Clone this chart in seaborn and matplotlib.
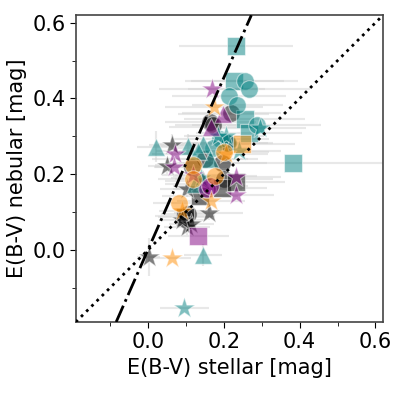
import numpy as np
import pandas as pd
import seaborn as sns
from matplotlib import pyplot as plt
from matplotlib.ticker import MultipleLocator

# E(B-V) stellar, E(B-V) nebular, x error, y error
teal_sq_x = [0.232, 0.228, 0.255, 0.266, 0.382]
teal_sq_y = [0.538, 0.446, 0.347, 0.310, 0.229]
teal_sq_xe = [0.15, 0.13, 0.16, 0.14, 0.30]

teal_ci_x = [0.255, 0.267, 0.213, 0.236, 0.287, 0.210, 0.190, 0.172]
teal_ci_y = [0.446, 0.424, 0.406, 0.382, 0.329, 0.283, 0.292, 0.270]
teal_ci_xe = [0.14, 0.16, 0.15, 0.12, 0.17, 0.12, 0.13, 0.10]

teal_tr_x = [0.022, 0.107, 0.146, 0.164, 0.124, 0.145, 0.132]
teal_tr_y = [0.273, 0.275, 0.279, 0.239, 0.174, -0.013, 0.262]
teal_tr_xe = [0.05, 0.09, 0.12, 0.10, 0.08, 0.05, 0.11]
teal_tr_ye = [0.04, 0.03, 0.02, 0.02, 0.02, 0.03, 0.02]

teal_st_x = [0.296, 0.206, 0.185, 0.096, 0.140, 0.240]
teal_st_y = [0.323, 0.301, 0.300, -0.153, 0.190, 0.262]
teal_st_xe = [0.12, 0.10, 0.09, 0.065, 0.08, 0.11]

gray_ci_x = [0.220, 0.164, 0.172, 0.151, 0.117, 0.195, 0.201, 0.208, 0.098, 0.105]
gray_ci_y = [0.362, 0.338, 0.330, 0.239, 0.220, 0.231, 0.187, 0.283, 0.090, 0.095]
gray_ci_xe = [0.13, 0.12, 0.10, 0.14, 0.10, 0.12, 0.13, 0.11, 0.08, 0.07]

gray_st_x = [0.063, 0.050, 0.002, 0.160, 0.103, 0.103, 0.115, 0.146, 0.090]
gray_st_y = [0.277, 0.222, -0.018, 0.099, 0.161, 0.060, 0.070, 0.182, 0.080]
gray_st_xe = [0.06, 0.05, 0.03, 0.09, 0.07, 0.06, 0.06, 0.10, 0.06]
gray_st_ye = [0.03, 0.02, 0.05, 0.02, 0.02, 0.02, 0.02, 0.02, 0.02]

gray_sq_x = [0.138, 0.195, 0.232, 0.098]
gray_sq_y = [0.143, 0.165, 0.180, 0.086]
gray_sq_xe = [0.10, 0.12, 0.13, 0.07]

purp_tr_x = [0.199, 0.166]
purp_tr_y = [0.358, 0.325]
purp_tr_xe = [0.12, 0.11]

purp_st_x = [0.169, 0.072, 0.068, 0.232, 0.232, 0.118]
purp_st_y = [0.424, 0.254, 0.218, 0.145, 0.192, 0.197]
purp_st_xe = [0.14, 0.06, 0.05, 0.10, 0.12, 0.08]

purp_ci_x = [0.157, 0.165]
purp_ci_y = [0.161, 0.170]
purp_ci_xe = [0.09, 0.10]

purp_sq_x = [0.133]
purp_sq_y = [0.036]
purp_sq_xe = [0.08]

oran_st_x = [0.174, 0.063, 0.166, 0.206, 0.089]
oran_st_y = [0.378, -0.022, 0.130, 0.253, 0.103]
oran_st_xe = [0.13, 0.05, 0.09, 0.11, 0.06]

oran_ci_x = [0.083, 0.118, 0.118, 0.177, 0.200]
oran_ci_y = [0.125, 0.224, 0.187, 0.196, 0.260]
oran_ci_xe = [0.07, 0.10, 0.09, 0.11, 0.12]

oran_sq_x = [0.249]
oran_sq_y = [0.279]
oran_sq_xe = [0.14]

groups = [
    # x, y, xerr, yerr, colour, marker
    (gray_ci_x, gray_ci_y, gray_ci_xe, None, 'black', 'o'),
    (gray_sq_x, gray_sq_y, gray_sq_xe, None, 'black', 's'),
    (gray_st_x, gray_st_y, gray_st_xe, gray_st_ye, 'black', '*'),
    (teal_sq_x, teal_sq_y, teal_sq_xe, None, 'teal', 's'),
    (teal_ci_x, teal_ci_y, teal_ci_xe, None, 'teal', 'o'),
    (teal_tr_x, teal_tr_y, teal_tr_xe, teal_tr_ye, 'teal', '^'),
    (teal_st_x, teal_st_y, teal_st_xe, None, 'teal', '*'),
    (purp_tr_x, purp_tr_y, purp_tr_xe, None, 'purple', '^'),
    (purp_st_x, purp_st_y, purp_st_xe, None, 'purple', '*'),
    (purp_ci_x, purp_ci_y, purp_ci_xe, None, 'purple', 'o'),
    (purp_sq_x, purp_sq_y, purp_sq_xe, None, 'purple', 's'),
    (oran_st_x, oran_st_y, oran_st_xe, None, 'darkorange', '*'),
    (oran_ci_x, oran_ci_y, oran_ci_xe, None, 'darkorange', 'o'),
    (oran_sq_x, oran_sq_y, oran_sq_xe, None, 'darkorange', 's'),
]

sns.set_style('ticks')
plt.rcParams['font.family'] = ['DejaVu Sans']
plt.rcParams['text.color'] = 'black'
plt.rcParams['axes.labelcolor'] = 'black'
plt.rcParams['xtick.color'] = 'black'
plt.rcParams['ytick.color'] = 'black'

fig = plt.figure(figsize=(3.99, 3.99), dpi=100)
ax = fig.add_axes([0.19, 0.193, 0.77, 0.769])

lims = (-0.19, 0.62)

# error bars first, underneath the markers
for x, y, xe, ye, c, m in groups:
    ax.errorbar(x, y, xerr=xe, yerr=ye, fmt='none', ecolor='lightgray',
                alpha=0.5, elinewidth=1.5, zorder=1)

sizes = {'o': 160, 's': 170, '^': 160, '*': 250}
for x, y, xe, ye, c, m in groups:
    df = pd.DataFrame({'x': x, 'y': y})
    sns.scatterplot(data=df, x='x', y='y', color=c, marker=m, s=sizes[m],
                    alpha=0.5, edgecolor='white', linewidth=0.8, ax=ax, zorder=3)

line = np.array(lims)
ax.plot(line, line, ':', color='black', lw=2, zorder=4)
ax.plot(line * 0.44, line, '-.', color='black', lw=2, zorder=4)

ax.set_xlim(lims)
ax.set_ylim(lims)
ax.xaxis.set_major_locator(MultipleLocator(0.2))
ax.yaxis.set_major_locator(MultipleLocator(0.2))
ax.xaxis.set_minor_locator(MultipleLocator(0.1))
ax.yaxis.set_minor_locator(MultipleLocator(0.1))
ax.tick_params(which='both', labelsize=15)
ax.tick_params(which='major', length=4)
ax.tick_params(which='minor', length=3)
for sp in ax.spines.values():
    sp.set_color('#444444')
    sp.set_linewidth(1.2)

ax.set_xlabel('E(B-V) stellar [mag]', fontsize=15)
ax.set_ylabel('E(B-V) nebular [mag]', fontsize=15)

fig.savefig('out.png', dpi=100)
